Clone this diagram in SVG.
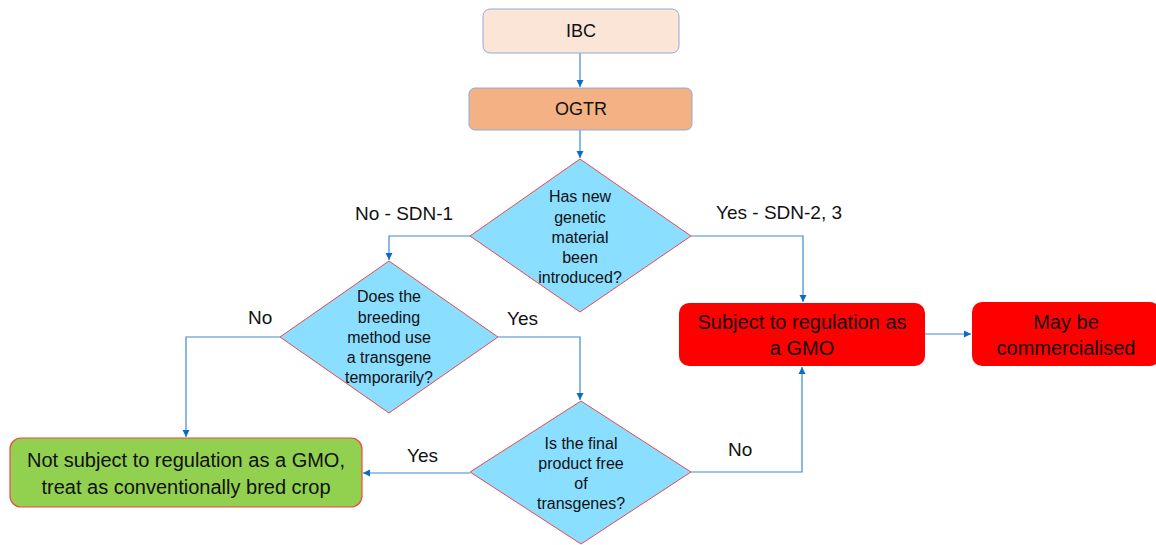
<svg xmlns="http://www.w3.org/2000/svg" width="1156" height="545" viewBox="0 0 1156 545">
<style>
text{font-family:"Liberation Sans",Arial,sans-serif;fill:#111;text-anchor:middle}
.d{font-size:16px}
.b{font-size:20px}
.h{font-size:18px}
.l{font-size:19px;text-anchor:start}
.dia{fill:#8ADEFF;stroke:#F0464B;stroke-width:1}
.c{fill:none;stroke:#3D8AD3;stroke-width:1.2}
</style>
<defs>
<marker id="ar" markerWidth="8" markerHeight="8" refX="7" refY="4" orient="auto" markerUnits="userSpaceOnUse">
<path d="M0,0.5 L7,4 L0,7.5 Z" fill="#0A6CC4"/>
</marker>
</defs>
<rect width="1156" height="545" fill="#fff"/>
<g id="connectors">
<path class="c" d="M580,53 V87" marker-end="url(#ar)"/>
<path class="c" d="M580,130 V158" marker-end="url(#ar)"/>
<path class="c" d="M470,236 H389 V260" marker-end="url(#ar)"/>
<path class="c" d="M691,236 H803 V302" marker-end="url(#ar)"/>
<path class="c" d="M280,337 H186 V437" marker-end="url(#ar)"/>
<path class="c" d="M498,337 H580 V400" marker-end="url(#ar)"/>
<path class="c" d="M470,473 H363" marker-end="url(#ar)"/>
<path class="c" d="M691,472 H802 V367" marker-end="url(#ar)"/>
<path class="c" d="M925,334 H971" marker-end="url(#ar)"/>
<text class="l" x="355" y="220">No - SDN-1</text>
<text class="l" x="716" y="219">Yes - SDN-2, 3</text>
<text class="l" x="248" y="324">No</text>
<text class="l" x="507" y="325">Yes</text>
<text class="l" x="407" y="462">Yes</text>
<text class="l" x="728" y="456">No</text>
</g>
<g id="ibc">
<rect x="483" y="9" width="196" height="44" rx="7" fill="#FBE5D6" stroke="#8FAADC" stroke-width="1"/>
<text class="h" x="581" y="37">IBC</text>
</g>
<g id="ogtr">
<rect x="469" y="88" width="223" height="42" rx="6" fill="#F4B183" stroke="#8FAADC" stroke-width="1"/>
<text class="h" x="581" y="115">OGTR</text>
</g>
<g id="q1">
<polygon class="dia" points="580,159 691,236 580,312 470,236"/>
<text class="d" x="580" y="202">Has new</text>
<text class="d" x="580" y="223">genetic</text>
<text class="d" x="580" y="243">material</text>
<text class="d" x="580" y="263">been</text>
<text class="d" x="580" y="283">introduced?</text>
</g>
<g id="q2">
<polygon class="dia" points="389,261 498,337 389,413 280,337"/>
<text class="d" x="389" y="302">Does the</text>
<text class="d" x="389" y="323">breeding</text>
<text class="d" x="389" y="343">method use</text>
<text class="d" x="389" y="363">a transgene</text>
<text class="d" x="389" y="383">temporarily?</text>
</g>
<g id="q3">
<polygon class="dia" points="581,401 691,472 581,544 470,472"/>
<text class="d" x="581" y="449">Is the final</text>
<text class="d" x="581" y="469">product free</text>
<text class="d" x="581" y="489">of</text>
<text class="d" x="581" y="509">transgenes?</text>
</g>
<g id="gmo">
<rect x="679" y="303" width="246" height="63" rx="10" fill="#FF0000"/>
<text class="b" x="802" y="329">Subject to regulation as</text>
<text class="b" x="802" y="355">a GMO</text>
</g>
<g id="commercial">
<rect x="972" y="302" width="188" height="64" rx="10" fill="#FF0000"/>
<text class="b" x="1066" y="329">May be</text>
<text class="b" x="1066" y="355">commercialised</text>
</g>
<g id="notgmo">
<rect x="10" y="438" width="352" height="69" rx="11" fill="#92D050" stroke="#F0464B" stroke-width="1.2"/>
<text class="b" x="186" y="467">Not subject to regulation as a GMO,</text>
<text class="b" x="186" y="494">treat as conventionally bred crop</text>
</g>
</svg>
